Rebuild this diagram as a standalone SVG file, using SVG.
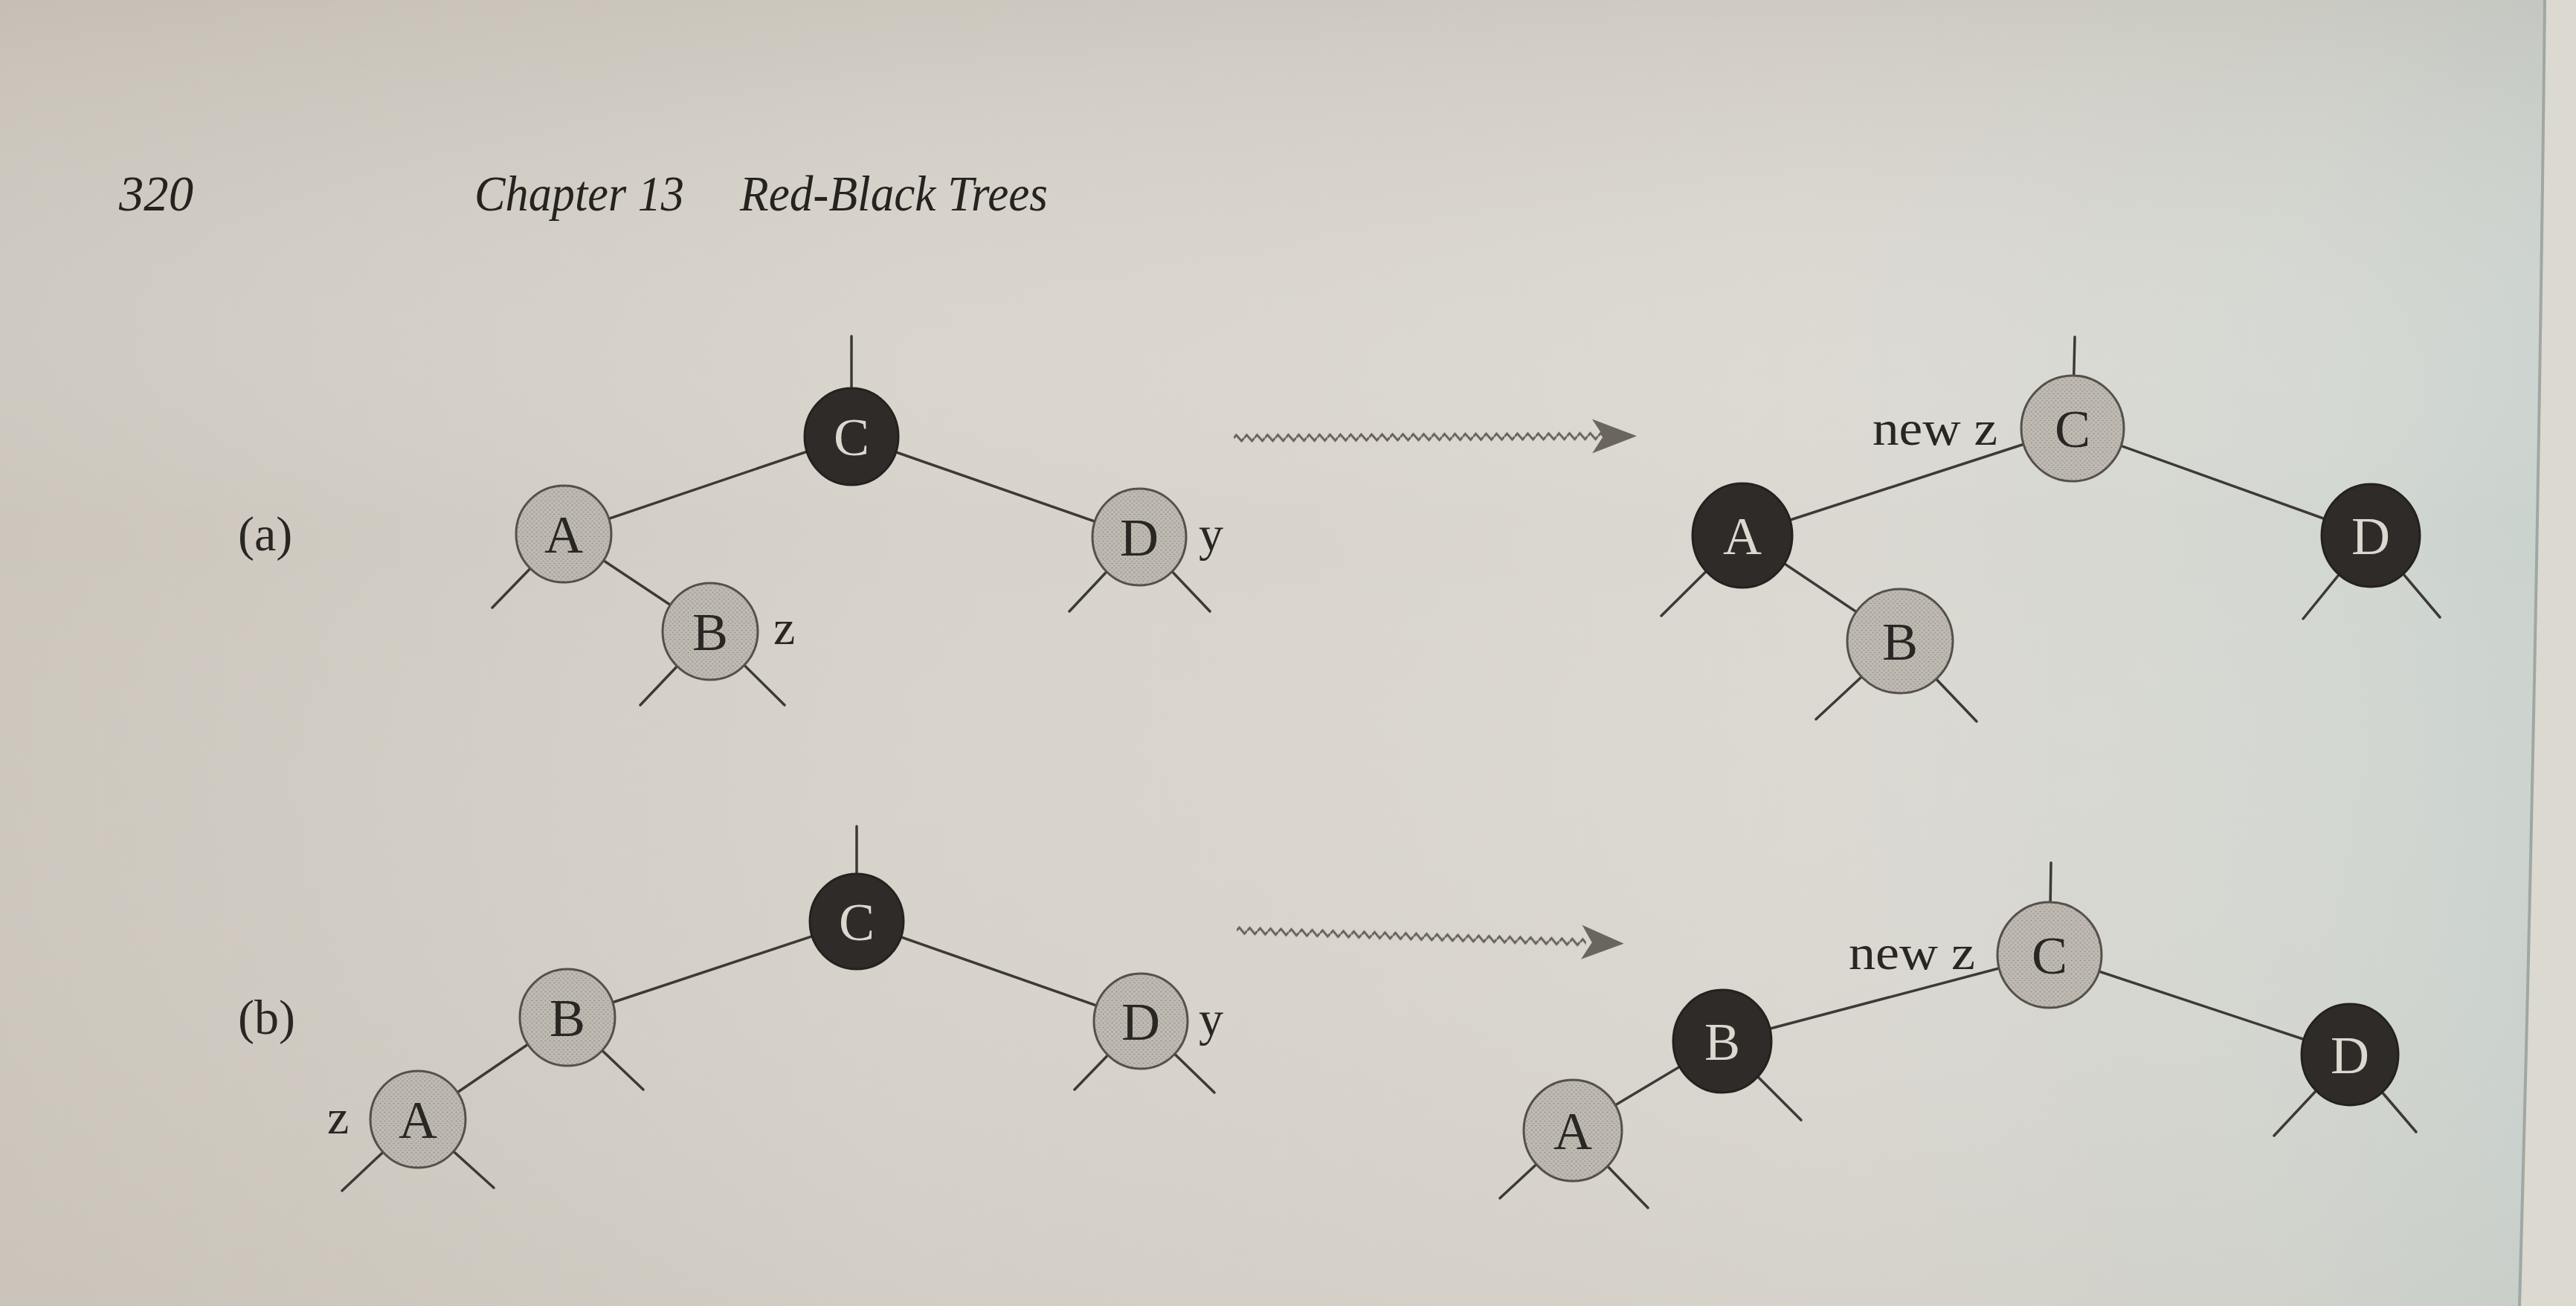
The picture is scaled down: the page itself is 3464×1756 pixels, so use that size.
<svg xmlns="http://www.w3.org/2000/svg" width="3464" height="1756" viewBox="0 0 3464 1756">
<defs>
<linearGradient id="bg" x1="0" y1="0" x2="1" y2="0">
<stop offset="0" stop-color="#ccc6bd"/>
<stop offset="0.35" stop-color="#d7d2ca"/>
<stop offset="0.7" stop-color="#dbd8d1"/>
<stop offset="0.9" stop-color="#d3d7d1"/>
<stop offset="1" stop-color="#c9d2ce"/>
</linearGradient>
<linearGradient id="shade" x1="0" y1="0" x2="0" y2="1">
<stop offset="0" stop-color="#b9b2a8" stop-opacity="0.35"/>
<stop offset="0.4" stop-color="#ffffff" stop-opacity="0"/>
<stop offset="1" stop-color="#b9b2a8" stop-opacity="0.15"/>
</linearGradient>
<pattern id="dots" width="6" height="6" patternUnits="userSpaceOnUse">
<rect width="6" height="6" fill="#bfbab2"/>
<circle cx="1.5" cy="1.5" r="1.1" fill="#9a958e"/>
<circle cx="4.5" cy="4.5" r="1.1" fill="#a29d96"/>
</pattern>
<pattern id="zig" x="0" y="-7" width="14" height="14" patternUnits="userSpaceOnUse">
<path d="M0,7 L3.5,3 L10.5,11 L14,7" fill="none" stroke="#66615b" stroke-width="2.8"/>
</pattern>
<style>
.edge{stroke:#3d3935;stroke-width:3.5;fill:none;stroke-linecap:round}
.red{fill:url(#dots);stroke:#55504b;stroke-width:3}
.blk{fill:#2f2b28;stroke:#24211f;stroke-width:3}
.lt{font-family:"Liberation Serif","Times New Roman",serif;font-size:72px;fill:#2a2623;text-anchor:middle}
.lb{font-family:"Liberation Serif","Times New Roman",serif;font-size:72px;fill:#dcd8d0;text-anchor:middle}
.lab{font-family:"Liberation Serif","Times New Roman",serif;font-size:66px;fill:#2a2623}
.hdr{font-family:"Liberation Serif","Times New Roman",serif;font-size:68px;fill:#26221f;font-style:italic}
.head{fill:#6a655f}
</style>
</defs>
<rect width="3464" height="1756" fill="url(#bg)"/>
<rect width="3464" height="1756" fill="url(#shade)"/>
<path d="M3422,0 Q3412,900 3388,1756 L3464,1756 L3464,0 Z" fill="#dcd9d0"/>
<path d="M3422,0 Q3412,900 3388,1756" fill="none" stroke="#9fa8a4" stroke-width="4"/>

<g id="header">
<text class="hdr" x="160" y="283" textLength="100" lengthAdjust="spacingAndGlyphs">320</text>
<text class="hdr" x="638" y="283" textLength="282" lengthAdjust="spacingAndGlyphs">Chapter 13</text>
<text class="hdr" x="995" y="283" textLength="414" lengthAdjust="spacingAndGlyphs">Red-Black Trees</text>
</g>

<g id="connectors">
<!-- (a) left -->
<line class="edge" x1="1145" y1="452" x2="1145" y2="587"/>
<line class="edge" x1="1145" y1="587" x2="758" y2="718"/>
<line class="edge" x1="1145" y1="587" x2="1532" y2="722"/>
<line class="edge" x1="758" y1="718" x2="955" y2="849"/>
<line class="edge" x1="758" y1="718" x2="662" y2="817"/>
<line class="edge" x1="955" y1="849" x2="861" y2="948"/>
<line class="edge" x1="955" y1="849" x2="1055" y2="948"/>
<line class="edge" x1="1532" y1="722" x2="1438" y2="822"/>
<line class="edge" x1="1532" y1="722" x2="1627" y2="822"/>
<!-- (a) right -->
<line class="edge" x1="2790" y1="453" x2="2787" y2="576"/>
<line class="edge" x1="2787" y1="576" x2="2343" y2="720"/>
<line class="edge" x1="2787" y1="576" x2="3188" y2="720"/>
<line class="edge" x1="2343" y1="720" x2="2555" y2="862"/>
<line class="edge" x1="2343" y1="720" x2="2234" y2="828"/>
<line class="edge" x1="2555" y1="862" x2="2442" y2="967"/>
<line class="edge" x1="2555" y1="862" x2="2658" y2="970"/>
<line class="edge" x1="3188" y1="720" x2="3097" y2="832"/>
<line class="edge" x1="3188" y1="720" x2="3281" y2="830"/>
<!-- (b) left -->
<line class="edge" x1="1152" y1="1111" x2="1152" y2="1239"/>
<line class="edge" x1="1152" y1="1239" x2="763" y2="1368"/>
<line class="edge" x1="1152" y1="1239" x2="1534" y2="1373"/>
<line class="edge" x1="763" y1="1368" x2="562" y2="1505"/>
<line class="edge" x1="763" y1="1368" x2="865" y2="1465"/>
<line class="edge" x1="562" y1="1505" x2="460" y2="1601"/>
<line class="edge" x1="562" y1="1505" x2="664" y2="1597"/>
<line class="edge" x1="1534" y1="1373" x2="1445" y2="1465"/>
<line class="edge" x1="1534" y1="1373" x2="1633" y2="1469"/>
<!-- (b) right -->
<line class="edge" x1="2758" y1="1160" x2="2756" y2="1284"/>
<line class="edge" x1="2756" y1="1284" x2="2316" y2="1400"/>
<line class="edge" x1="2756" y1="1284" x2="3160" y2="1418"/>
<line class="edge" x1="2316" y1="1400" x2="2115" y2="1520"/>
<line class="edge" x1="2316" y1="1400" x2="2422" y2="1506"/>
<line class="edge" x1="2115" y1="1520" x2="2017" y2="1611"/>
<line class="edge" x1="2115" y1="1520" x2="2216" y2="1624"/>
<line class="edge" x1="3160" y1="1418" x2="3058" y2="1527"/>
<line class="edge" x1="3160" y1="1418" x2="3249" y2="1522"/>
<!-- transformation arrows -->
<g id="arrow-a" transform="translate(1659,589) rotate(-0.3)">
<rect x="0" y="-7" width="500" height="14" fill="url(#zig)"/>
<path class="head" d="M542,0 L482,-23 L497,0 L482,23 Z"/>
</g>
<g id="arrow-b" transform="translate(1663,1251) rotate(1.95)">
<rect x="0" y="-7" width="470" height="14" fill="url(#zig)"/>
<path class="head" d="M521,0 L464,-23 L478,0 L464,23 Z"/>
</g>
</g>

<g id="label-a"><text class="lab" x="320" y="740">(a)</text></g>
<g id="label-b"><text class="lab" x="320" y="1390">(b)</text></g>

<!-- (a) left tree -->
<g id="a1-C"><ellipse class="blk" cx="1145" cy="587" rx="63" ry="65"/><text class="lb" x="1145" y="612">C</text></g>
<g id="a1-A"><ellipse class="red" cx="758" cy="718" rx="64" ry="65"/><text class="lt" x="758" y="743">A</text></g>
<g id="a1-D"><ellipse class="red" cx="1532" cy="722" rx="63" ry="65"/><text class="lt" x="1532" y="747">D</text><text class="lab" x="1612" y="740">y</text></g>
<g id="a1-B"><ellipse class="red" cx="955" cy="849" rx="64" ry="65"/><text class="lt" x="955" y="874">B</text><text class="lab" x="1040" y="866">z</text></g>

<!-- (a) right tree -->
<g id="a2-C"><ellipse class="red" cx="2787" cy="576" rx="69" ry="71"/><text class="lt" x="2787" y="601">C</text><text class="lab" x="2518" y="598" textLength="168" lengthAdjust="spacingAndGlyphs">new z</text></g>
<g id="a2-A"><ellipse class="blk" cx="2343" cy="720" rx="67" ry="70"/><text class="lb" x="2343" y="745">A</text></g>
<g id="a2-D"><ellipse class="blk" cx="3188" cy="720" rx="66" ry="69"/><text class="lb" x="3188" y="745">D</text></g>
<g id="a2-B"><ellipse class="red" cx="2555" cy="862" rx="71" ry="70"/><text class="lt" x="2555" y="887">B</text></g>

<!-- (b) left tree -->
<g id="b1-C"><ellipse class="blk" cx="1152" cy="1239" rx="63" ry="64"/><text class="lb" x="1152" y="1264">C</text></g>
<g id="b1-B"><ellipse class="red" cx="763" cy="1368" rx="64" ry="65"/><text class="lt" x="763" y="1393">B</text></g>
<g id="b1-D"><ellipse class="red" cx="1534" cy="1373" rx="63" ry="64"/><text class="lt" x="1534" y="1398">D</text><text class="lab" x="1612" y="1392">y</text></g>
<g id="b1-A"><ellipse class="red" cx="562" cy="1505" rx="64" ry="65"/><text class="lt" x="562" y="1530">A</text><text class="lab" x="440" y="1524">z</text></g>

<!-- (b) right tree -->
<g id="b2-C"><ellipse class="red" cx="2756" cy="1284" rx="70" ry="71"/><text class="lt" x="2756" y="1309">C</text><text class="lab" x="2486" y="1303" textLength="170" lengthAdjust="spacingAndGlyphs">new z</text></g>
<g id="b2-B"><ellipse class="blk" cx="2316" cy="1400" rx="66" ry="69"/><text class="lb" x="2316" y="1425">B</text></g>
<g id="b2-D"><ellipse class="blk" cx="3160" cy="1418" rx="65" ry="68"/><text class="lb" x="3160" y="1443">D</text></g>
<g id="b2-A"><ellipse class="red" cx="2115" cy="1520" rx="66" ry="68"/><text class="lt" x="2115" y="1545">A</text></g>
</svg>
